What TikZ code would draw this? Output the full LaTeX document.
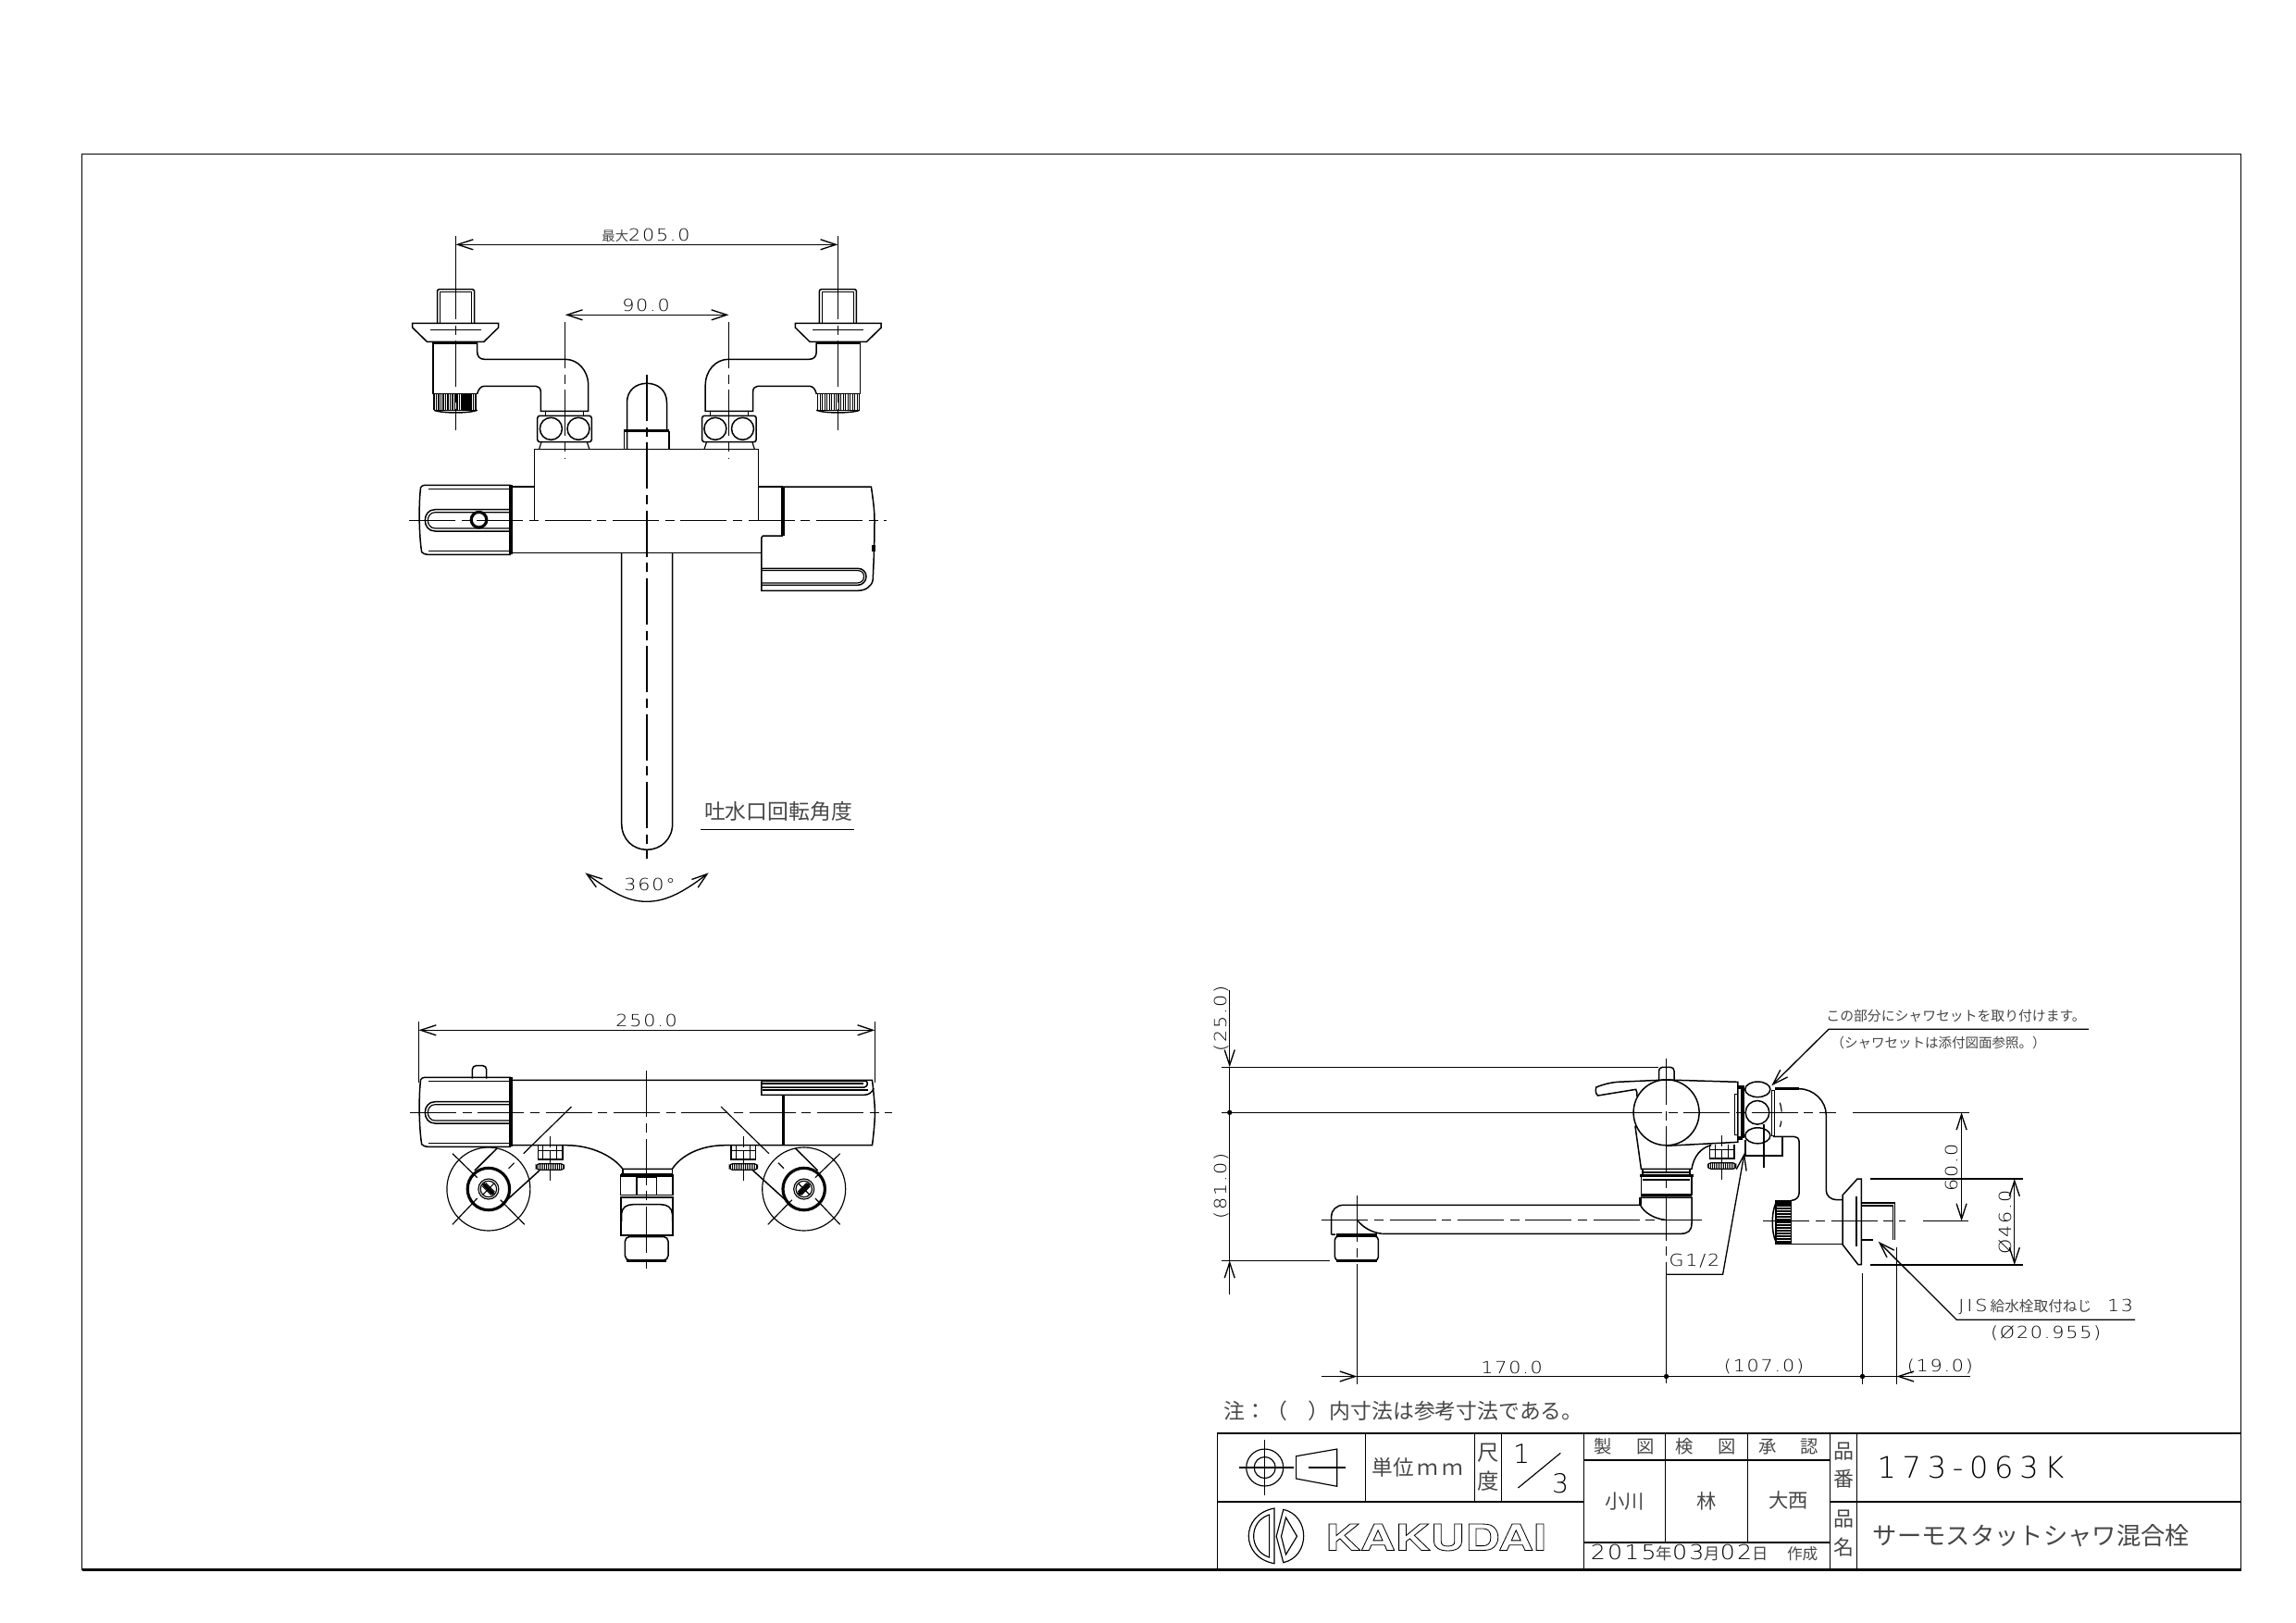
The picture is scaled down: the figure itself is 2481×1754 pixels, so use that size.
\documentclass[tikz,border=0pt]{standalone}
\usepackage{fontspec}
\setmainfont{DejaVu Sans ExtraLight}
\newfontfamily\cadfont[FakeStretch=1.15,LetterSpace=10]{DejaVu Sans ExtraLight}
\newfontfamily\bigfont[LetterSpace=21]{DejaVu Sans ExtraLight}
\newfontfamily\logofont[FakeStretch=1.34]{TeX Gyre Heros}
\newfontfamily\cjk{Noto Sans CJK JP}
\newcommand{\sized}[1]{\fontsize{#1}{#1}\selectfont}
\usetikzlibrary{arrows.meta}

\tikzset{
    obj/.style={line width=0.45pt},
    hvy/.style={line width=0.95pt},
    fin/.style={line width=0.35pt},
    axisline/.style={line width=0.4pt, dash pattern=on 15pt off 2pt on 3pt off 2pt},
    dimline/.style={line width=0.4pt, >={Straight Barb[length=5pt,width=3.3pt]}},
    dimtxt/.style={inner sep=0pt, font=\cadfont\sized{5.4pt}},
    jptxt/.style={inner sep=0pt, text=black!72, font=\cjk\sized{#1}},
    jptxt/.default=6.4pt,
    knob/.pic={
        \draw[obj] (0,-38) -- (-91,-38) .. controls (-95,-38) and (-97,-37) .. (-97.4,-35.6)
            .. controls (-99.5,-20) and (-99.5,15) .. (-96.3,34.4) .. controls (-95,36) and (-92,37) .. (-90,37) -- (0,37);
        \draw[hvy] (0,-38) -- (0,37);
        \draw[obj] (-89,-34) -- (-1,-34) (-89,33.4) -- (-1,33.4);
        \draw[obj] (-1,-11.6) -- (-82,-11.6) .. controls (-89,-11.6) and (-92.7,-6) .. (-92.7,0)
            .. controls (-92.7,6) and (-89,11.7) .. (-82,11.7) -- (-1,11.7);
        \draw[fin] (-1,-8.6) -- (-82,-8.6) .. controls (-87,-8.6) and (-89.7,-4) .. (-89.7,0)
            .. controls (-89.7,4) and (-87,8.7) .. (-82,8.7) -- (-1,8.7);
    },
    valve/.pic={
        \draw[obj, rounded corners=0.6pt] (-20,-21) -- (-20,-57.6) -- (20,-57.6) -- (20,-21);
        \draw[fin] (-17,-21) -- (-17,-55) -- (17,-55) -- (17,-21);
        \draw[obj] (-46.8,-21) -- (46.1,-21) -- (46.1,-16.3) -- (30.4,-1) -- (-31.1,-1) -- (-46.8,-16.3) -- cycle;
        \draw[fin] (-28,-13.6) -- (27.5,-13.6);
        \draw[hvy] (-24.3,0) -- (23.2,0);
        \draw[obj] (-24.3,0) -- (-24.3,55.4) -- (23.2,55.4);
        \draw[obj] (23.2,0) -- (23.2,10) .. controls (23.2,15) and (26,18) .. (31.1,18) -- (118.2,18)
            .. controls (132,18) and (143.2,30) .. (143.2,46.4) -- (143.2,74) -- (91.8,74) -- (91.8,53)
            .. controls (91.8,49) and (89,47) .. (86.5,47) -- (31.1,47) .. controls (27,47) and (24.5,50) .. (23.2,55.4);
        \foreach \kx in {-23.5,-21,...,23.5}
            \draw[fin] (\kx,55.4) -- (\kx,73);
        \draw[obj] (-23.5,73) .. controls (-15,76.5) and (15,76.5) .. (23.2,73);
        \draw[fin] (-23.5,73) -- (23.2,73);
        \draw[fin] (97,74) -- (97,79) (138,74) -- (138,79);
        \draw[obj, rounded corners=0.8pt] (88.2,79) rectangle (146.8,107.4);
        \draw[obj] (102.9,93) circle[radius=12] (132.5,93) circle[radius=12];
        \draw[fin] (92.5,107.4) -- (90,115.4) (141.8,107.4) -- (144.5,115.4);
    },
    wheel/.pic={
        \draw[fin] (0,0) circle[radius=45];
        \draw[hvy] (0,0) circle[radius=22.7];
        \draw[fin] (0,0) circle[radius=11] (0,0) circle[radius=8.7];
        \draw[line width=1.1pt] (-5.5,-5.5) -- (5.5,5.5);
        \draw[fin] (-6.5,-3) -- (3,6.5) (-3,-6.5) -- (6.5,3) (-6,6) -- (6,-6);
        \draw[fin] (-39,-38.3) -- (-12.2,-12.3) (-39,38.3) -- (-12.2,10)
            (12.8,11.7) -- (38.9,38.3) (21.7,-22.3) -- (27.8,-28.3) (37.8,-38.3) -- (89.6,-89);
        \draw[obj] (9.2,-44) -- (-15,-20) (20,11.7) -- (55,-20);
    },
    nut/.pic={
        \draw[obj] (-13,0) -- (-13,15.5) -- (13.5,15.5) -- (13.5,0);
        \draw[fin] (-7.5,0) -- (-7.5,15.5) (7,0) -- (7,15.5) (-13,6) -- (13.5,6);
        \draw[fin, rounded corners=1pt] (-15,20) rectangle (15.3,26.6);
        \foreach \kx in {-14,-12,...,14}
            \draw[line width=0.35pt] (\kx,20) -- (\kx,26.6);
        \draw[fin] (0,-9.7) -- (0,2) (0,6) -- (0,38);
    }
}

\begin{document}
\begin{tikzpicture}[x=0.3pt, y=-0.3pt]
    \useasboundingbox (0,0) rectangle (2481,1754);

    % frame
    \draw[line width=0.45pt] (88.6,1696.5) -- (88.6,166.5) -- (2421.6,166.5) -- (2421.6,1696.5);
    \draw[line width=0.9pt] (88.6,1696.5) -- (2421.6,1696.5);

    % plan view
    \pic at (492.5,370.3) {valve};
    \pic[xscale=-1] at (905.4,370.3) {valve};
    \fill (499,425.7) rectangle (507.5,443.3);

    \draw[obj] (677.5,485.7) -- (677.5,465.7) -- (677.5,435) .. controls (677.5,422) and (687,414.3) .. (699,414.3)
        .. controls (711,414.3) and (720.5,422) .. (720.5,435) -- (720.5,465.7);
    \draw[hvy] (674.3,465.7) -- (723.2,465.7);
    \draw[obj] (674.3,465.7) -- (674.3,485.7) (723.2,465.7) -- (723.2,485.7);

    \draw[obj] (577.5,562.3) -- (577.5,485.7) -- (819.3,485.7) -- (819.3,562.3);
    \draw[obj] (552,526) -- (577.5,526) (819.3,526) -- (846,526);
    \draw[obj] (552,597.7) -- (822.9,597.7);

    \pic at (552,562.3) {knob};
    \draw[hvy] (517.5,561.7) circle[radius=8.3];

    \draw[hvy] (846,526) -- (846,579);
    \draw[obj] (846,526) -- (941.4,526) .. controls (943.5,540) and (945,552) .. (945,562.3)
        .. controls (945,590) and (944,610) .. (943.2,626.7) .. controls (942,634) and (935,638.3) .. (927,638.3)
        -- (822.9,638.3) -- (822.9,581) -- (824.5,579) -- (846,579);
    \draw[obj] (822.9,614.3) -- (927,614.3) .. controls (932,614.3) and (936,618) .. (936,623)
        .. controls (936,628) and (932,632.3) .. (927,632.3) -- (822.9,632.3);
    \draw[fin] (822.9,616.5) -- (926,616.5) .. controls (931,616.5) and (933.5,619) .. (933.5,623)
        .. controls (933.5,627) and (931,630) .. (926,630) -- (822.9,630);
    \draw[hvy] (944,589) -- (944,596);

    \draw[obj] (671.7,597.3) -- (671.7,890) .. controls (671.7,907) and (684,918.3) .. (699,918.3)
        .. controls (714,918.3) and (726.7,907) .. (726.7,890) -- (726.7,597.3);

    \draw[axisline] (442,562.3) -- (957.5,562.3);
    \draw[axisline] (699,405) -- (699,928.3);
    \draw[axisline] (492.5,295) -- (492.5,465);
    \draw[axisline] (905.4,295) -- (905.4,465);
    \draw[axisline] (610.7,348) -- (610.7,495);
    \draw[axisline] (787.5,348) -- (787.5,495);

    \coordinate (A205) at (492.5,264.3);
    \coordinate (B205) at (905.4,264.3);
    \coordinate (A90) at (610.7,340.3);
    \coordinate (B90) at (787.5,340.3);
    \draw[fin] (A205) ++(0,-9) -- ++(0,42) (B205) ++(0,-9) -- ++(0,42);
    \draw[dimline,<->] (A205) -- (B205);
    \draw[dimline,<->] (A90) -- (B90);
    \node[dimtxt] (t205) at (698,254) {{\cjk\color{black!72}\sized{4.3pt}最大}205.0};
    \node[dimtxt] (t90) at (698,330) {90.0};

    \node[jptxt=6.85pt] (tangle) at (841,876.5) {吐水口回転角度};
    \draw[fin] (757.3,896.3) -- (923.3,896.3);
    \coordinate (A360) at (632.3,943.3);
    \coordinate (B360) at (765.7,943.3);
    \draw[dimline,<->] (A360) .. controls (665,967) and (680,974.3) .. (698.7,974.3) .. controls (717,974.3) and (735,967) .. (B360);
    \node[dimtxt] (t360) at (702,955.7) {360°};

    % front view
    \coordinate (A250) at (452.5,1113.3);
    \coordinate (B250) at (945.4,1113.3);
    \draw[fin] (A250) ++(0,-9) -- ++(0,66) (B250) ++(0,-9) -- ++(0,66);
    \draw[dimline,<->] (A250) -- (B250);
    \node[dimtxt] (t250) at (698.6,1103) {250.0};

    \draw[obj] (552,1167.3) -- (942.5,1167.3) .. controls (944,1180) and (945.4,1195) .. (945.4,1202.3)
        .. controls (945.4,1212) and (944,1226) .. (942.5,1237.7) -- (783.6,1237.7)
        .. controls (755,1237.7) and (735,1250) .. (726.4,1263.3) -- (672.9,1263.3)
        .. controls (663,1250) and (640,1237.7) .. (612,1237.7) -- (552,1237.7);
    \pic at (552,1202.3) {knob};
    \draw[obj, rounded corners=1.2pt] (510.4,1165.7) -- (510.4,1151.7) -- (525.7,1151.7) -- (525.7,1165.7);

    \draw[hvy] (846.4,1184) -- (846.4,1237.7);
    \draw[obj] (822.9,1168.3) -- (936,1168.3) .. controls (938,1170) and (938,1174) .. (934,1175) -- (822.9,1175);
    \draw[fin] (822.9,1171) -- (933,1171) (824,1178) -- (938,1178);
    \draw[obj] (822.9,1168.3) -- (822.9,1183.3) -- (934,1183.3) .. controls (939,1183.3) and (943,1180) .. (944,1176);

    \pic at (527.9,1285) {wheel};
    \pic[xscale=-1] at (868.7,1285) {wheel};
    \pic at (594.3,1237.7) {nut};
    \pic at (803.2,1237.7) {nut};

    \draw[obj] (672.9,1263.3) -- (672.9,1270) (726.4,1263.3) -- (726.4,1270);
    \draw[hvy] (670.7,1270) -- (727.1,1270);
    \draw[obj] (670.7,1270) rectangle (727.1,1291.7);
    \draw[obj] (688.2,1291.7) -- (688.2,1272.7) -- (709.3,1272.7) -- (709.3,1291.7);
    \draw[obj] (671,1294) rectangle (727,1335);
    \draw[obj] (671.5,1320) -- (671.5,1312) .. controls (672,1305) and (677,1301.7) .. (684,1301.7)
        -- (714,1301.7) .. controls (721,1301.7) and (726,1305) .. (726.5,1312) -- (726.5,1320);
    \draw[obj, rounded corners=1.5pt] (675.4,1336.5) rectangle (722,1362);
    \draw[hvy] (677,1362.3) -- (720,1362.3);

    \draw[axisline] (443,1202.3) -- (964,1202.3);
    \draw[axisline] (698.2,1157.3) -- (698.2,1371.7);

    % side view
    \coordinate (A81) at (1328.7,1362.3);
    \coordinate (A25) at (1328.7,1153.3);
    \coordinate (O81) at (1328.7,1202.3);
    \draw[fin] (1320,1153.3) -- (1791.8,1153.3);
    \draw[fin] (1320,1202.3) -- (1746,1202.3);
    \draw[fin] (1320,1362.3) -- (1436.6,1362.3);
    \draw[dimline,->] (1328.7,1070) -- (A25);
    \draw[dimline] (A25) -- (A81);
    \draw[dimline,->] (1328.7,1399) -- (A81);
    \fill (O81) circle[radius=2.7];
    \node[dimtxt, rotate=90] (t25) at (1320,1100.7) {(25.0)};
    \node[dimtxt, rotate=90] (t81) at (1320,1282) {(81.0)};

    \draw[obj] (1773.4,1302.3) -- (1452,1302.3) .. controls (1444,1302.3) and (1438.5,1308) .. (1438.5,1315) -- (1438.5,1334);
    \draw[obj] (1438.5,1334) -- (1443,1334) (1493.3,1333.3) -- (1816,1333.3)
        .. controls (1824,1333.3) and (1828,1330) .. (1828,1322) -- (1828,1294) -- (1772.6,1294);
    \draw[hvy] (1772.6,1294) -- (1772.6,1302.3);
    \draw[obj] (1772.6,1302.3) .. controls (1776,1310) and (1787,1317) .. (1799.4,1318.3);
    \draw[obj] (1466.5,1318.3) .. controls (1472,1326) and (1482,1332) .. (1493.3,1333.3);
    \draw[fin] (1444.5,1334) rectangle (1487.5,1336);
    \draw[obj, rounded corners=1.2pt] (1442.4,1336) -- (1442.4,1362.3) -- (1489.4,1362.3) -- (1489.4,1336) -- cycle;
    \draw[hvy] (1444,1362.3) -- (1488,1362.3);
    \draw[axisline] (1428.2,1318.5) -- (1838.8,1318.5);

    \draw[obj] (1800.6,1202.3) circle[radius=35.5];
    \draw[obj, rounded corners=1.2pt] (1792.5,1167.3) -- (1792.5,1153.3) -- (1809,1153.3) -- (1809,1167.3);
    \draw[obj] (1768.8,1185) .. controls (1769,1182) and (1769,1179) .. (1767.7,1177.3) -- (1726.7,1184)
        .. controls (1724,1183) and (1724,1177) .. (1724.8,1175) .. controls (1732,1172) and (1740,1170) .. (1747.8,1169.3)
        -- (1800.6,1167) -- (1877.9,1169.3) -- (1877.9,1234.3) -- (1800.6,1238.3);
    \draw[obj] (1766.9,1216.7) -- (1773.4,1263.3) -- (1828,1263.3) .. controls (1830,1250) and (1838,1240) .. (1849.2,1237.7);
    \pic at (1860.6,1236.7) {nut};
    \draw[fin] (1775,1263.3) -- (1775,1270) (1826,1263.3) -- (1826,1270) (1775,1267) -- (1826,1267);
    \draw[hvy] (1771.5,1270.5) -- (1830,1270.5);
    \draw[obj] (1773.4,1270.5) -- (1773.4,1291.7) (1828,1270.5) -- (1828,1291.7);
    \draw[hvy] (1773.4,1291.7) -- (1828,1291.7);
    \draw[fin] (1775,1275) -- (1826,1275);
    \draw[axisline] (1800.6,1144) -- (1800.6,1375);
    \draw[fin] (1800.6,1375) -- (1800.6,1495);

    \draw[fin] (1874.3,1226.7) -- (1874.3,1182.3) -- (1878,1182.3);
    \draw[fin] (1874.3,1226.7) -- (1878,1226.7);
    \draw[line width=1.2pt] (1883.3,1173.3) -- (1883.3,1230);
    \draw[hvy] (1878,1175) -- (1883,1175) (1878,1230) -- (1883,1230);
    \draw[obj] (1899.3,1177.3) ellipse[x radius=13.6, y radius=8.3];
    \draw[obj] (1899,1202.3) circle[radius=12.8];
    \draw[obj] (1899.3,1227.3) ellipse[x radius=13.6, y radius=8.5];
    \draw[fin] (1914.3,1178.3) rectangle (1917.7,1227.3);
    \draw[fin, dashed] (1923.3,1191.7) .. controls (1926,1200) and (1926,1210) .. (1923.3,1218);
    \draw[hvy] (1918.3,1176.7) -- (1944,1176.7);
    \draw[obj] (1944,1176.7) .. controls (1960,1176.7) and (1973.3,1190) .. (1973.3,1205) -- (1973.3,1286.7)
        .. controls (1973.3,1292) and (1978,1296.7) .. (1985,1296.7) -- (1991,1296.7);
    \draw[obj] (1886,1232) -- (1886,1249) -- (1926,1249) -- (1926,1228.3);
    \draw[obj] (1916,1228.3) -- (1938.3,1228.3) .. controls (1941,1228.3) and (1944,1230) .. (1944,1233.3) -- (1944,1290)
        .. controls (1944,1294) and (1940,1297.3) .. (1935.7,1297.3);
    \fill (1919,1297.7) rectangle (1935.7,1304);
    \foreach \ky in {1306,1309,...,1342}
        \draw[fin] (1919,\ky) -- (1935.7,\ky);
    \draw[obj] (1919,1297.7) rectangle (1935.7,1344);
    \draw[obj] (1919,1300) .. controls (1914,1310) and (1914,1332) .. (1919,1342);
    \draw[obj] (1935.7,1344.3) -- (1991,1344.3);
    \draw[obj] (2011.4,1274) -- (2007,1274) -- (1991,1291.7) -- (1991,1345) -- (2007.9,1366.7) -- (2011.4,1366.7) -- cycle;
    \draw[fin] (2006,1293) -- (2006,1346.7);
    \draw[obj] (2011.4,1300) -- (2047.5,1300) -- (2047.5,1340) (2011.4,1340) -- (2024,1340);
    \draw[fin] (2011.4,1303) -- (2045.5,1303) -- (2045.5,1340);

    \draw[axisline] (1746,1202.3) -- (1984,1202.3);
    \draw[fin] (2001.8,1202.3) -- (2127.9,1202.3);
    \draw[axisline] (1905.4,1319.5) -- (2059,1319.5);
    \draw[fin] (2077.9,1319.5) -- (2127,1319.5);
    \draw[axisline] (1906,1215) -- (1906,1262);
    \draw[fin] (2021.4,1274) -- (2185.7,1274);
    \draw[fin] (2021.4,1367) -- (2185.7,1367);

    \coordinate (A60) at (2119.6,1202.3);
    \coordinate (B60) at (2119.6,1319.5);
    \coordinate (A46) at (2176.8,1274);
    \coordinate (B46) at (2176.8,1367);
    \draw[dimline,<->] (A60) -- (B60);
    \draw[dimline,<->] (A46) -- (B46);
    \node[dimtxt, rotate=90] (t60) at (2109.3,1261.7) {60.0};
    \node[dimtxt, rotate=90] (t46) at (2166.8,1320.7) {Ø46.0};

    % lengths along the bottom
    \coordinate (L0) at (1428.2,1487.5);
    \coordinate (L1) at (1466.5,1487.5);
    \coordinate (L2) at (1800.6,1487.5);
    \coordinate (L3) at (2012.5,1487.5);
    \coordinate (L4) at (2049.3,1487.5);
    \coordinate (L5) at (2128.6,1487.5);
    \draw[axisline] (1466.5,1292.3) -- (1466.5,1390);
    \draw[fin] (1466.5,1380) -- (1466.5,1496);
    \draw[fin] (2012.5,1375.7) -- (2012.5,1496);
    \draw[fin] (2049.3,1347.7) -- (2049.3,1496);
    \draw[dimline,->] (L0) -- (L1);
    \draw[dimline] (L1) -- (L4);
    \draw[dimline,->] (L5) -- (L4);
    \fill (L2) circle[radius=2.7] (L3) circle[radius=2.7];
    \node[dimtxt] (t170) at (1633.7,1477.5) {170.0};
    \node[dimtxt] (t107) at (1906,1477) {(107.0)};
    \node[dimtxt] (t19) at (2096.4,1477) {(19.0)};

    % leaders
    \coordinate (G0) at (1800.6,1377.3);
    \coordinate (G1) at (1861.6,1377.3);
    \coordinate (G2) at (1885,1246);
    \draw[dimline,->] (G0) -- (G1) -- (G2);
    \node[dimtxt] (tg) at (1831,1362.7) {G1/2};

    \coordinate (S0) at (2257,1112.3);
    \coordinate (S1) at (1976,1112.3);
    \coordinate (S2) at (1914.3,1173.3);
    \draw[dimline,->] (S0) -- (S1) -- (S2);
    \node[jptxt=4.45pt] (tshower) at (2113.6,1098.3) {この部分にシャワセットを取り付けます。};
    \node[jptxt=4.35pt] (tshower2) at (2094.6,1127.3) {（シャワセットは添付図面参照。）};

    \coordinate (J0) at (2307,1426.3);
    \coordinate (J1) at (2114.3,1426.3);
    \coordinate (J2) at (2029.6,1341.7);
    \draw[dimline,->] (J0) -- (J1) -- (J2);
    \node[dimtxt] (tjis) at (2210.7,1412.3) {J\,I\,S\,{\cjk\color{black!72}\sized{4.7pt}給水栓取付ねじ}\ \ 13};
    \node[dimtxt] (tdia) at (2210.7,1441) {(Ø20.955)};

    \node[jptxt=6.85pt] (tnote) at (1516.5,1525) {注：（　）内寸法は参考寸法である。};

    % title block
    \draw[obj] (1315.4,1696.5) -- (1315.4,1549) -- (2421.6,1549);
    \draw[obj] (1315.4,1623) -- (1711.3,1623) (1977.5,1623) -- (2421.6,1623);
    \foreach \vx in {1475.6,1593.5,1622.5}
        \draw[obj] (\vx,1549) -- (\vx,1623);
    \foreach \vx in {1799.6,1888.3}
        \draw[obj] (\vx,1549) -- (\vx,1667);
    \foreach \vx in {1711.3,1977.5,2006.7}
        \draw[obj] (\vx,1549) -- (\vx,1696.5);
    \draw[obj] (1711.3,1578) -- (1977.5,1578) (1711.3,1667) -- (1977.5,1667);

    \draw[fin] (1366.7,1586) circle[radius=20] (1366.7,1586) circle[radius=11.5];
    \draw[fin] (1339,1586) -- (1398,1586) (1366.7,1556) -- (1366.7,1616);
    \draw[fin] (1400.6,1573.7) -- (1444.8,1566) -- (1444.8,1606.3) -- (1400.6,1598) -- cycle;
    \draw[fin] (1413.6,1586) -- (1453.8,1586);

    \node[inner sep=0pt, text=black!72] (tunit) at (1531.9,1586) {\cjk\sized{6.8pt}単位\,ｍ\,ｍ};
    \node[jptxt=7pt] (tshaku) at (1607.8,1570.3) {尺};
    \node[jptxt=7pt] (tdo) at (1607.8,1600.3) {度};
    \node[inner sep=0pt, font=\sized{8.5pt}] (tone) at (1644,1571) {1};
    \node[inner sep=0pt, font=\sized{8.5pt}] (tthree) at (1686,1603) {3};
    \draw[fin] (1640.4,1608) -- (1686.3,1570.3);

    \foreach \hx/\hn/\hc in {1732/a/製,1778/b/図,1820/c/検,1866/d/図,1910/e/承,1955/f/認}
        \node[jptxt=5.8pt] (h\hn) at (\hx,1563.5) {\hc};
    \node[jptxt=6.4pt] (nogawa) at (1755.7,1622.5) {小川};
    \node[jptxt=6.4pt] (nhayashi) at (1844,1622.5) {林};
    \node[jptxt=6.4pt] (nonishi) at (1932.7,1621) {大西};
    \node[inner sep=0pt, font=\cadfont\sized{6.6pt}] (tdate) at (1841.6,1678) {2015{\cjk\color{black!72}\sized{5.2pt}年}03{\cjk\color{black!72}\sized{5.2pt}月}02{\cjk\color{black!72}\sized{5.2pt}日}\ \ {\cjk\color{black!72}\sized{5pt}作成}};
    \node[jptxt=6.6pt] (kone) at (1992.6,1568.5) {品};
    \node[jptxt=6.6pt] (kban) at (1992.6,1598.5) {番};
    \node[jptxt=6.6pt] (ktwo) at (1992.6,1642) {品};
    \node[jptxt=6.6pt] (kmei) at (1992.6,1672) {名};
    \node[inner sep=0pt, font=\bigfont\sized{9.6pt}] (tcode) at (2129.5,1586) {173-063K};
    \node[jptxt=7.9pt] (tname) at (2195,1660) {サーモスタットシャワ混合栓};

    % logo
    \draw[fin] (1377,1630) .. controls (1340,1637) and (1340,1683) .. (1377,1689.7) -- cycle;
    \draw[fin] (1371.6,1637) .. controls (1349,1644) and (1349,1676) .. (1371.6,1683) -- cycle;
    \draw[fin] (1386.8,1631.3) .. controls (1416,1638) and (1416,1682) .. (1386.8,1688.7) -- (1379.2,1660.3) -- cycle;
    \draw[fin] (1389.5,1640) -- (1401.5,1660.3) -- (1389.5,1680) -- (1384.5,1660.3) -- cycle;
    \node[inner sep=0pt, font=\logofont\bfseries\sized{11.7pt}] (tlogo) at (1551.8,1661.5) {\special{pdf:code 1 Tr 0.25 w}KAKUDAI\special{pdf:code 0 Tr}};
\end{tikzpicture}
\end{document}
